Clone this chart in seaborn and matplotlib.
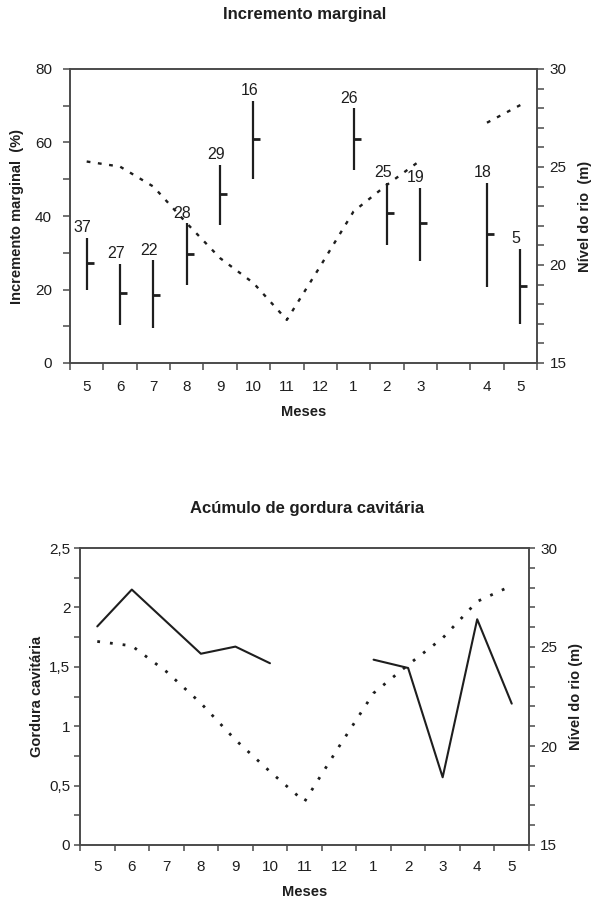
import numpy as np
import pandas as pd
import matplotlib
matplotlib.use("Agg")
import matplotlib.pyplot as plt
import seaborn as sns
from matplotlib.path import Path
from matplotlib.ticker import MultipleLocator, FixedLocator, FuncFormatter, NullFormatter

# ---------------- data ----------------
months_top = ['5', '6', '7', '8', '9', '10', '11', '12', '1', '2', '3', '', '4', '5']
inc_mean = [27.2, 19.0, 18.6, 29.7, 45.9, 60.9, None, None, 60.9, 40.9, 38.0, None, 35.1, 21.0]
inc_low = [19.9, 10.4, 9.5, 21.3, 37.6, 50.0, None, None, 52.4, 32.0, 27.8, None, 20.7, 10.7]
inc_high = [34.0, 27.0, 27.9, 38.0, 53.9, 71.4, None, None, 69.3, 49.1, 47.6, None, 49.1, 31.0]
inc_n = ['37', '27', '22', '28', '29', '16', '', '', '26', '25', '19', '', '18', '5']
river_top = [25.28, 25.02, 24.0, 22.13, 20.35, 19.08, 17.2, 19.93, 22.73, 24.09, 25.33, None, 27.26, 28.16]

months_bot = ['5', '6', '7', '8', '9', '10', '11', '12', '1', '2', '3', '4', '5']
fat = [1.84, 2.15, 1.88, 1.61, 1.67, 1.53, None, None, 1.56, 1.49, 0.57, 1.90, 1.19]
river_bot = [25.28, 25.06, 23.76, 22.16, 20.31, 18.71, 17.19, 19.97, 22.67, 24.10, 25.45, 27.30, 28.10]

# ---------------- style ----------------
sns.set_theme(style="ticks")
plt.rcParams['font.family'] = ['Liberation Sans', 'DejaVu Sans']
INK = '#1e1e1e'
SPINE = '#4a4a4a'
plt.rcParams['text.color'] = INK
plt.rcParams['axes.labelcolor'] = INK
plt.rcParams['xtick.color'] = SPINE
plt.rcParams['ytick.color'] = SPINE
plt.rcParams['xtick.labelcolor'] = INK
plt.rcParams['ytick.labelcolor'] = INK


def seg_frame(values):
    """Build a frame with a segment id so gaps (None) break the line."""
    x, y, seg = [], [], []
    s = 0
    prev_nan = True
    for i, v in enumerate(values):
        if v is None:
            if not prev_nan:
                s += 1
            prev_nan = True
            continue
        prev_nan = False
        x.append(i)
        y.append(v)
        seg.append(s)
    return pd.DataFrame({'x': x, 'y': y, 'seg': seg})


def style_axes(ax, ax2, labels, tick_fs):
    n = len(labels)
    ax.set_xlim(-0.5, n - 0.5)
    ax.xaxis.set_major_locator(FixedLocator(np.arange(-0.5, n, 1.0)))
    ax.xaxis.set_major_formatter(NullFormatter())
    ax.xaxis.set_minor_locator(FixedLocator(np.arange(n)))
    ax.xaxis.set_minor_formatter(FuncFormatter(lambda v, p: labels[int(round(v))]))
    ax.tick_params(axis='x', which='major', length=5, width=1.1, direction='out')
    ax.tick_params(axis='x', which='minor', length=0, pad=12, labelsize=tick_fs)
    for a in (ax, ax2):
        for sp in a.spines.values():
            sp.set_color(SPINE)
            sp.set_linewidth(1.2)
            sp.set_visible(True)
        a.set_facecolor('none')
    ax.tick_params(axis='y', which='both', length=5, width=1.1, labelsize=tick_fs)
    ax2.tick_params(axis='y', which='both', length=5, width=1.1, labelsize=tick_fs, pad=4)


fig = plt.figure(figsize=(5.94, 9.0), dpi=100)

# ================= TOP PANEL =================
ax = fig.add_axes([70 / 594, 1 - 363 / 900, 467 / 594, 294 / 900])
ax2 = ax.twinx()

xs = np.arange(len(months_top))
valid = [i for i in xs if inc_mean[i] is not None]
vx = np.array(valid)
ax.vlines(vx, [inc_low[i] for i in valid], [inc_high[i] for i in valid],
          color=INK, lw=1.6, zorder=3)
tick_marker = Path([(0, 0), (1, 0)])
ax.plot(vx, [inc_mean[i] for i in valid], ls='none', marker=tick_marker,
        ms=10, mew=2.0, mec=INK, color=INK, zorder=4)
for i in valid:
    ax.annotate(inc_n[i], (i, inc_high[i]), xytext=(-3, 2), textcoords='offset points',
                ha='center', va='bottom', fontsize=11.5, color=INK)

df_rt = seg_frame(river_top)
sns.lineplot(data=df_rt, x='x', y='y', units='seg', estimator=None, ax=ax2,
             color=INK, lw=1.7, linestyle=(0, (1.6, 3.2)), sort=False)

ax.set_ylim(0, 80)
ax.yaxis.set_major_locator(MultipleLocator(20))
ax.yaxis.set_minor_locator(MultipleLocator(10))
ax2.set_ylim(15, 30)
ax2.yaxis.set_major_locator(MultipleLocator(5))
ax2.yaxis.set_minor_locator(MultipleLocator(1))
style_axes(ax, ax2, months_top, 11)
ax.tick_params(axis='y', pad=8)

ax.set_xlabel('Meses', fontsize=10.5, fontweight='bold')
ax.xaxis.set_label_coords(0.5, -0.143)
ax.xaxis.label.set_va('top')
ax.set_ylabel('Incremento marginal  (%)', fontsize=10.5, fontweight='bold')
ax.yaxis.set_label_coords(-0.098, 0.5)
ax2.set_xlabel('')
ax2.set_ylabel('Nível do rio  (m)', fontsize=10.5, fontweight='bold')
ax2.yaxis.set_label_coords(1.088, 0.5)

fig.text(305 / 594, 1 - 14 / 900, 'Incremento marginal', ha='center', va='center',
         fontsize=12, fontweight='bold', color=INK)

# ================= BOTTOM PANEL =================
bx = fig.add_axes([80 / 594, 1 - 845 / 900, 449 / 594, 297 / 900])
bx2 = bx.twinx()

df_fat = seg_frame(fat)
sns.lineplot(data=df_fat, x='x', y='y', units='seg', estimator=None, ax=bx,
             color=INK, lw=1.5, sort=False)
df_rb = seg_frame(river_bot)
sns.lineplot(data=df_rb, x='x', y='y', units='seg', estimator=None, ax=bx2,
             color=INK, lw=2.0, linestyle=(0, (1.0, 3.6)), sort=False)

bx.set_ylim(0, 2.5)
bx.yaxis.set_major_locator(MultipleLocator(0.5))
bx.yaxis.set_minor_locator(MultipleLocator(0.25))
bx.yaxis.set_major_formatter(FuncFormatter(lambda v, p: f'{v:g}'.replace('.', ',')))
bx2.set_ylim(15, 30)
bx2.yaxis.set_major_locator(MultipleLocator(5))
bx2.yaxis.set_minor_locator(MultipleLocator(1))
style_axes(bx, bx2, months_bot, 11)
bx.tick_params(axis='y', which='both', length=4, pad=3)
bx2.tick_params(axis='y', which='both', length=4, pad=4)
bx.tick_params(axis='x', which='major', length=4)
bx.tick_params(axis='x', which='minor', pad=11)

bx.set_xlabel('Meses', fontsize=10.5, fontweight='bold')
bx.xaxis.set_label_coords(0.5, -0.135)
bx.xaxis.label.set_va('top')
bx.set_ylabel('Gordura cavitária', fontsize=10.5, fontweight='bold')
bx.yaxis.set_label_coords(-0.080, 0.5)
bx2.set_xlabel('')
bx2.set_ylabel('Nível do rio (m)', fontsize=10.5, fontweight='bold')
bx2.yaxis.set_label_coords(1.089, 0.5)

fig.text(307 / 594, 1 - 508 / 900, 'Acúmulo de gordura cavitária', ha='center', va='center',
         fontsize=12, fontweight='bold', color=INK)

fig.savefig('out.png', dpi=100, facecolor='white')
